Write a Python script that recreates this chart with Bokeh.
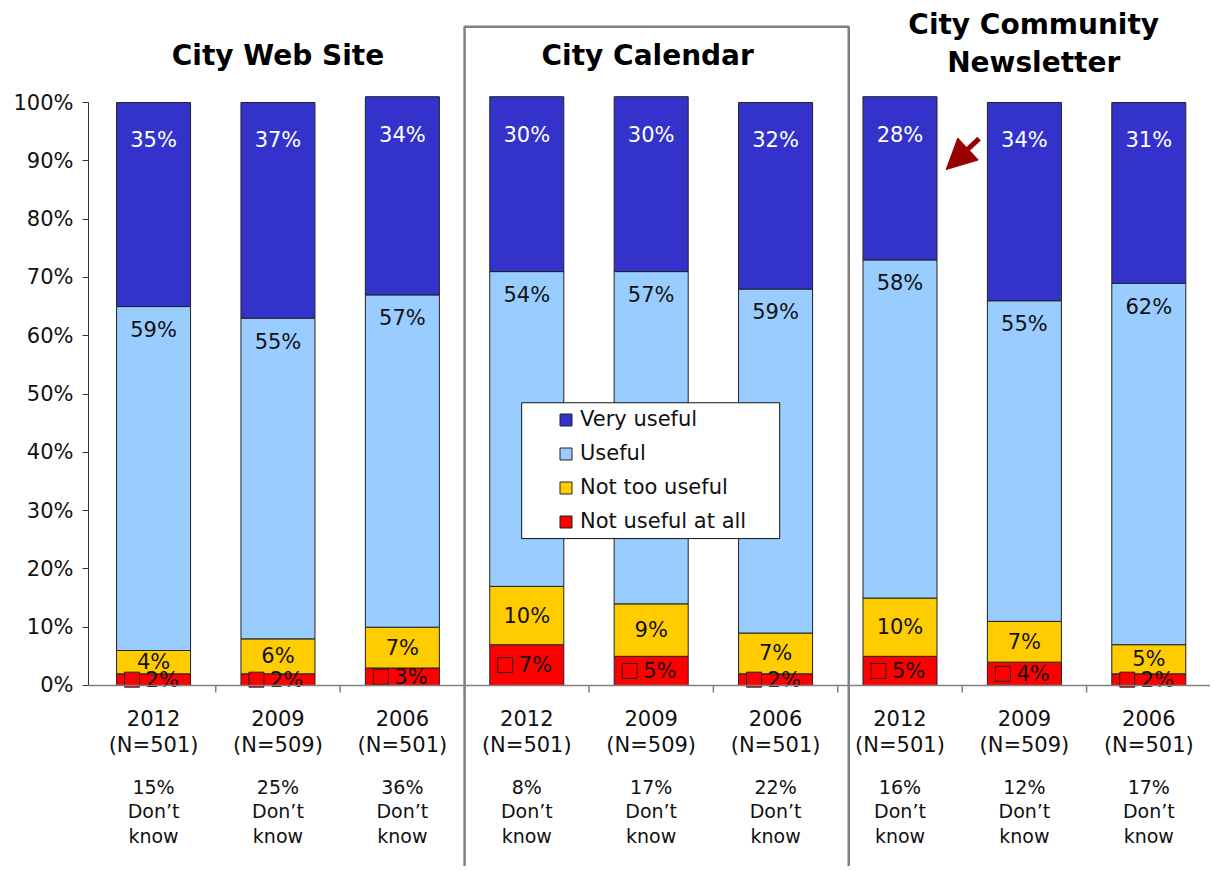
from bokeh.plotting import figure
from bokeh.models import (Range1d, ColumnDataSource, FixedTicker, Span, Legend,
                          LegendItem, Arrow, NormalHead)
from bokeh.core.properties import value
from bokeh.embed import file_html
from bokeh.resources import INLINE

# ---------------- data ----------------
groups = ["City Web Site", "City Calendar", "City Community\nNewsletter"]
years = ["2012", "2009", "2006", "2012", "2009", "2006", "2012", "2009", "2006"]
sample_n = ["(N=501)", "(N=509)", "(N=501)", "(N=501)", "(N=509)", "(N=501)",
            "(N=501)", "(N=509)", "(N=501)"]
dont_know = [15, 25, 36, 8, 17, 22, 16, 12, 17]
not_at_all = [2, 2, 3, 7, 5, 2, 5, 4, 2]
not_too = [4, 6, 7, 10, 9, 7, 10, 7, 5]
useful = [59, 55, 57, 54, 57, 59, 58, 55, 62]
very = [35, 37, 34, 30, 30, 32, 28, 34, 31]
series_names = ["Not useful at all", "Not too useful", "Useful", "Very useful"]
y_ticks = [0, 10, 20, 30, 40, 50, 60, 70, 80, 90, 100]

# ---------------- styles ----------------
FONT = "DejaVu Sans"
colors = ["#FF0000", "#FFCC00", "#99CCFF", "#3333CC"]

xs = list(range(len(years)))
src = ColumnDataSource(dict(x=xs, not_at_all=not_at_all, not_too=not_too,
                            useful=useful, very=very))

p = figure(width=1210, height=866, output_backend="svg", toolbar_location=None,
           x_range=Range1d(-0.523, 8.496), y_range=Range1d(-31.05, 117.5),
           min_border=0, min_border_left=88, x_axis_location=None)
p.grid.visible = False
p.outline_line_color = None
p.background_fill_color = "white"

# y axis
ya = p.yaxis[0]
ya.bounds = (0, 100)
ya.ticker = FixedTicker(ticks=y_ticks)
ya.major_label_overrides = {t: f"{t}%" for t in y_ticks}
ya.minor_tick_line_color = None
ya.major_tick_out = 6
ya.major_tick_in = 0
ya.axis_line_color = "#333333"
ya.major_tick_line_color = "#333333"
ya.major_label_text_font = FONT
ya.major_label_text_font_size = "21px"
ya.major_label_text_color = "#111111"
ya.major_label_standoff = 9

# bars
rs = p.vbar_stack(["not_at_all", "not_too", "useful", "very"], x="x", width=0.595,
                  fill_color=colors, line_color="#222222", line_width=1, source=src)

# x axis line + ticks
p.add_layout(Span(location=0, dimension="width", line_color="#808080", line_width=1.5))
bounds = [i + 0.5 for i in xs]
p.segment(x0=bounds, y0=[0] * len(bounds), x1=bounds, y1=[-1.2] * len(bounds),
          line_color="#808080", line_width=1.5)

# segment labels
lab_x, lab_y, lab_t, lab_c = [], [], [], []
for i in xs:
    b1 = not_at_all[i]
    b2 = b1 + not_too[i]
    b3 = b2 + useful[i]
    b4 = b3 + very[i]
    lab_x += [i, i, i]
    lab_y += [(b1 + b2) / 2, b3 - 4, b4 - 6.5]
    lab_t += [f"{not_too[i]}%", f"{useful[i]}%", f"{very[i]}%"]
    lab_c += ["#111111", "#111111", "white"]
p.text(x=lab_x, y=lab_y, text=lab_t, text_color=lab_c, text_align="center",
       text_baseline="middle", text_font=value(FONT), text_font_size="21px")

red_y = [v / 2 for v in not_at_all]
p.scatter(x=[i - 0.173 for i in xs], y=red_y, marker="square", size=15,
          fill_color="#FF0000", line_color="#222222", line_width=1)
p.text(x=xs, y=red_y, text=[f"{v}%" for v in not_at_all], text_color="#111111",
       text_align="left", text_baseline="middle", x_offset=-8,
       text_font=value(FONT), text_font_size="21px")

# group box and legend box
p.quad(left=[2.5], right=[5.588], bottom=[-40], top=[113.0], fill_alpha=0,
       line_color="#808080", line_width=2.5)
p.quad(left=[2.959], right=[5.033], bottom=[25.2], top=[48.5], fill_color="white",
       line_color="#111111", line_width=1)

# titles
p.text(x=[1, 3.972, 7.075], y=[108.1, 108.1, 110.1], text=groups, text_align="center",
       text_baseline="middle", text_font=value(FONT), text_font_style="bold",
       text_font_size="28px", text_color="black", text_line_height=1.166)

# bottom category labels
p.text(x=xs, y=[-7.98] * len(xs), text=[f"{y}\n{n}" for y, n in zip(years, sample_n)],
       text_align="center", text_baseline="middle", text_font=value(FONT),
       text_font_size="21px", text_color="#111111", text_line_height=1.07)
p.text(x=xs, y=[-21.6] * len(xs), text=[f"{d}%\nDon\u2019t\nknow" for d in dont_know],
       text_align="center", text_baseline="middle", text_font=value(FONT),
       text_font_size="19px", text_color="#111111", text_line_height=1.13)

# arrow
p.add_layout(Arrow(end=NormalHead(size=30, fill_color="#990000", line_color="#990000"),
                   x_start=6.636, y_start=93.8, x_end=6.371, y_end=88.5,
                   line_color="#990000", line_width=5))

# legend
items = [LegendItem(label=series_names[k], renderers=[rs[k]]) for k in (3, 2, 1, 0)]
legend = Legend(items=items, location=(470, 333), padding=0, margin=0, spacing=10,
                glyph_width=15, glyph_height=15, label_height=24, label_standoff=7,
                label_text_font=FONT, label_text_font_size="21px",
                label_text_color="#111111", border_line_alpha=0,
                background_fill_alpha=0)
p.add_layout(legend)

open("out.html", "w").write(file_html(p, INLINE))
